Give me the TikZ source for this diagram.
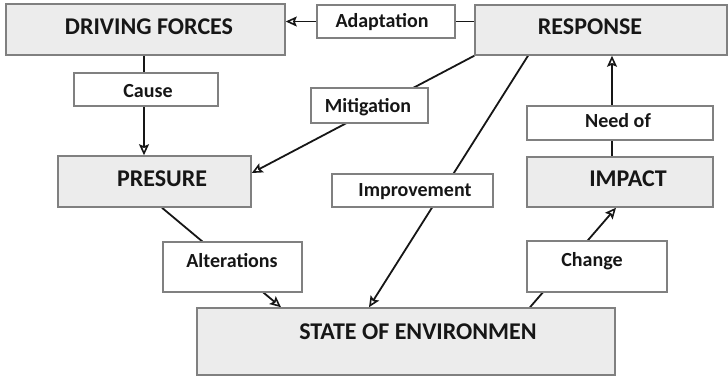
\documentclass[tikz,border=0pt]{standalone}
\usepackage{fontspec}
\setmainfont{Carlito}
\usetikzlibrary{arrows.meta,backgrounds,calc}
\definecolor{boxfill}{RGB}{236,236,236}
\definecolor{boxline}{RGB}{128,128,128}
\definecolor{ink}{RGB}{22,22,22}
\tikzset{
  framebox/.style={draw=boxline, line width=1.5pt, inner sep=0pt, anchor=center},
  mainbox/.style={framebox, fill=boxfill},
  labelbox/.style={framebox, fill=white},
  titletext/.style={inner sep=0pt, text=ink, font=\fontsize{24}{26}\selectfont\bfseries},
  smalltext/.style={inner sep=0pt, text=ink, font=\fontsize{20}{22}\selectfont\bfseries},
  link/.style={draw=ink, line width=1.8pt},
  arrowlink/.style={link, -{Stealth[open, inset=2pt, length=11pt, width=10pt, line width=1.6pt]}}
}
\begin{document}
\begin{tikzpicture}[x=1pt, y=-1pt]
\useasboundingbox (0,0) rectangle (728,377);

% main boxes
\node[mainbox, minimum width=279pt, minimum height=51pt] (df) at (145.5,29.5) {};
\node[titletext] (df-t) at (149,27) {DRIVING FORCES};
\node[mainbox, minimum width=252pt, minimum height=50pt] (resp) at (601,30) {};
\node[titletext] (resp-t) at (590,27) {RESPONSE};
\node[mainbox, minimum width=193pt, minimum height=51pt] (pres) at (154.5,181.5) {};
\node[titletext] (pres-t) at (162,179) {PRESURE};
\node[mainbox, minimum width=186pt, minimum height=50pt] (impact) at (620,182) {};
\node[titletext] (impact-t) at (628,179) {IMPACT};
\node[mainbox, minimum width=418pt, minimum height=67pt] (state) at (406,341.5) {};
\node[titletext] (state-t) at (418,332) {STATE OF ENVIRONMEN};

% label boxes sitting on the connectors
\node[labelbox, minimum width=138pt, minimum height=33pt] (adapt) at (386,21.5) {};
\node[smalltext] (adapt-t) at (382,22) {Adaptation};
\node[labelbox, minimum width=144pt, minimum height=33pt] (cause) at (146,89.5) {};
\node[smalltext] (cause-t) at (148,91) {Cause};
\node[labelbox, minimum width=117pt, minimum height=35pt] (mitig) at (369.5,105.5) {};
\node[smalltext] (mitig-t) at (368,107) {Mitigation};
\node[labelbox, minimum width=186pt, minimum height=34pt] (needof) at (620,123) {};
\node[smalltext] (needof-t) at (618,121) {Need of};
\node[labelbox, minimum width=161pt, minimum height=33pt] (improv) at (412.5,190.5) {};
\node[smalltext] (improv-t) at (415,192) {Improvement};
\node[labelbox, minimum width=139pt, minimum height=50pt] (alter) at (232.5,267) {};
\node[smalltext] (alter-t) at (232,261) {Alterations};
\node[labelbox, minimum width=140pt, minimum height=51pt] (change) at (597,266.5) {};
\node[smalltext] (change-t) at (592,261) {Change};

% connectors run behind the boxes
\begin{scope}[on background layer]
  \draw[arrowlink] (resp.west |- adapt.center) -- (df.east |- adapt.center);
  \draw[arrowlink] ([xshift=-1.5pt]df.south) -- ([xshift=-1.5pt]df.south |- pres.north);
  \draw[arrowlink] (resp.south west) -- ([yshift=8.5pt]pres.east);
  \draw[arrowlink] ([xshift=-73pt]resp.south) -- ([xshift=-37pt]state.north);
  \draw[arrowlink] ([xshift=7.5pt]pres.south) -- ([xshift=-125pt]state.north);
  \draw[arrowlink] ([xshift=124pt]state.north) -- ([xshift=-4pt]impact.south);
  \draw[arrowlink] ([xshift=-8pt]impact.north) -- ([xshift=-8pt]impact.north |- resp.south);
\end{scope}
\end{tikzpicture}
\end{document}
